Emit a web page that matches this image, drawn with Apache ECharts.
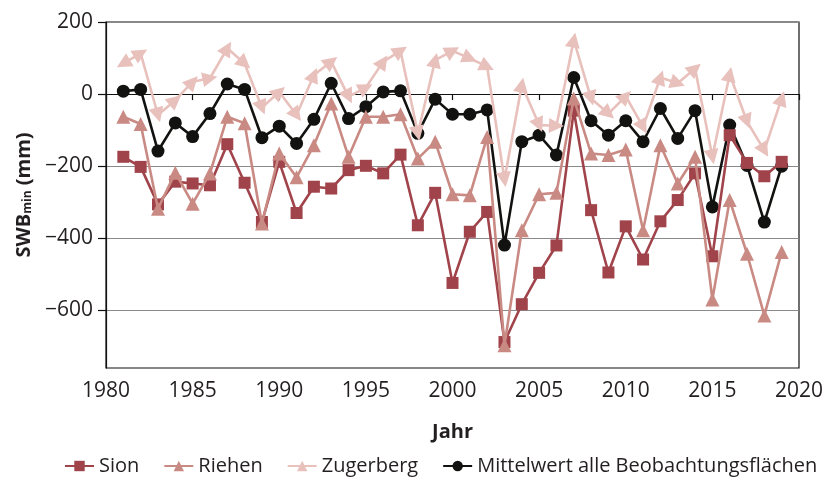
<!DOCTYPE html>
<html>
<head>
<meta charset="utf-8">
<script src="https://cdn.jsdelivr.net/npm/echarts@6/dist/echarts.min.js"></script>
<style>html,body{margin:0;padding:0;background:#fff}#c{width:827px;height:480px}</style>
</head>
<body>
<div id="c"></div>
<script>
const years = [1981,1982,1983,1984,1985,1986,1987,1988,1989,1990,1991,1992,1993,1994,1995,1996,1997,1998,1999,2000,2001,2002,2003,2004,2005,2006,2007,2008,2009,2010,2011,2012,2013,2014,2015,2016,2017,2018,2019];
const sion = [-174,-202,-306,-243,-248,-253,-139,-246,-355,-188,-330,-257,-262,-211,-199,-220,-168,-364,-274,-524,-382,-327,-688,-583,-496,-420,-46,-322,-495,-367,-459,-353,-294,-220,-450,-114,-191,-228,-188];
const riehen = [-63,-83,-318,-218,-304,-220,-63,-81,-359,-165,-231,-142,-26,-174,-63,-63,-56,-179,-132,-278,-281,-119,-697,-378,-278,-274,-12,-165,-169,-154,-378,-142,-248,-174,-570,-294,-443,-614,-438];
const zugerberg = [85,113,-58,-17,34,44,127,85,-37,6,-58,53,90,-7,18,90,120,-109,94,120,99,76,-237,25,-86,-88,150,-12,-54,-6,-91,46,30,71,-174,55,-76,-156,-12];
const mittel = [8,13,-158,-80,-118,-54,28,13,-121,-89,-137,-70,30,-68,-35,6,9,-109,-14,-56,-56,-44,-419,-132,-114,-169,46,-74,-114,-74,-132,-40,-123,-46,-313,-86,-198,-355,-200];
const yTicks = [-600,-400,-200,0,200];
const xTicks = [1980,1985,1990,1995,2000,2005,2010,2015,2020];
const names = ['Sion','Riehen','Zugerberg','Mittelwert alle Beobachtungsflächen'];

const FONT = '"Open Sans", "Noto Sans", sans-serif';
const TXT = '#231f20';
const COL = {sion:'#a0434a', riehen:'#c98a84', zug:'#e8c0bc', mit:'#121210'};

const pairs = arr => years.map((y,i)=>[y,arr[i]]);

const chart = echarts.init(document.getElementById('c'), null, {renderer:'canvas'});
const baseOption = {
  animation:false,
  textStyle:{fontFamily:FONT,color:TXT},
  grid:{left:106,right:28,top:22,bottom:112,show:true,borderColor:'#111',borderWidth:1.2,backgroundColor:'transparent'},
  xAxis:{type:'value',min:1980,max:2020,interval:5,
    name:'Jahr',nameLocation:'middle',nameGap:54,
    nameTextStyle:{fontFamily:FONT,fontSize:20,fontWeight:'bold',color:TXT},
    axisLine:{show:true,lineStyle:{color:'#111',width:1.2}},
    axisTick:{show:true,inside:false,length:6,lineStyle:{color:'#111',width:1.2}},
    axisLabel:{fontFamily:FONT,fontSize:21,color:TXT,margin:13,formatter:v=>String(v)},
    splitLine:{show:false}},
  yAxis:{type:'value',min:-760,max:200,
    name:'{b|SWB}{s|min}{b| (mm)}',nameLocation:'middle',nameGap:66,nameRotate:90,
    nameTextStyle:{rich:{
      b:{fontFamily:FONT,fontSize:20,fontWeight:'bold',color:TXT},
      s:{fontFamily:FONT,fontSize:12,fontWeight:'bold',color:TXT,verticalAlign:'bottom',padding:[8,0,0,0]}}},
    axisLine:{show:true,lineStyle:{color:'#111',width:1.2}},
    axisTick:{show:true,inside:false,length:8,customValues:yTicks,lineStyle:{color:'#111',width:1.2}},
    axisLabel:{fontFamily:FONT,fontSize:21,color:TXT,margin:13,customValues:yTicks,
      formatter:v=>String(v).replace('-','\u2212')},
    splitLine:{show:true,lineStyle:{color:'#8a8a8a',width:1.2}}},
  legend:{top:456,left:64,width:763,itemWidth:29,itemHeight:13,itemGap:24,padding:0,
    textStyle:{fontFamily:FONT,fontSize:20,color:TXT},
    data:names},
  series:[
    {name:names[3],type:'line',data:pairs(mittel),symbol:'circle',symbolSize:13,z:2,
      itemStyle:{color:COL.mit},lineStyle:{color:COL.mit,width:2.6}},
    {name:names[0],type:'line',data:pairs(sion),symbol:'rect',symbolSize:12,z:3,
      itemStyle:{color:COL.sion},lineStyle:{color:COL.sion,width:2.6}},
    {name:names[1],type:'line',data:pairs(riehen),symbol:'triangle',symbolSize:14,z:4,
      itemStyle:{color:COL.riehen},lineStyle:{color:COL.riehen,width:2.6}},
    {name:names[2],type:'line',data:pairs(zugerberg),symbol:'triangle',symbolSize:15,z:5,
      itemStyle:{color:COL.zug},lineStyle:{color:COL.zug,width:2.6}}
  ]
};
chart.setOption(baseOption);

// orient Zugerberg arrowheads along the direction of travel (screen space via the chart's own scales)
const px = years.map((y,i)=>chart.convertToPixel({gridIndex:0},[y,zugerberg[i]]));
const zData = years.map((y,i)=>{
  let a,b;
  if(i===0){a=px[1];b=px[0];} else {a=px[i-1];b=px[i];}
  const dx=b[0]-a[0], dy=-(b[1]-a[1]);
  const ang=Math.atan2(dy,dx)*180/Math.PI;
  return {value:[y,zugerberg[i]],symbolRotate:ang-90};
});
chart.setOption({series:[{},{},{},{data:zData}]});
</script>
</body>
</html>
